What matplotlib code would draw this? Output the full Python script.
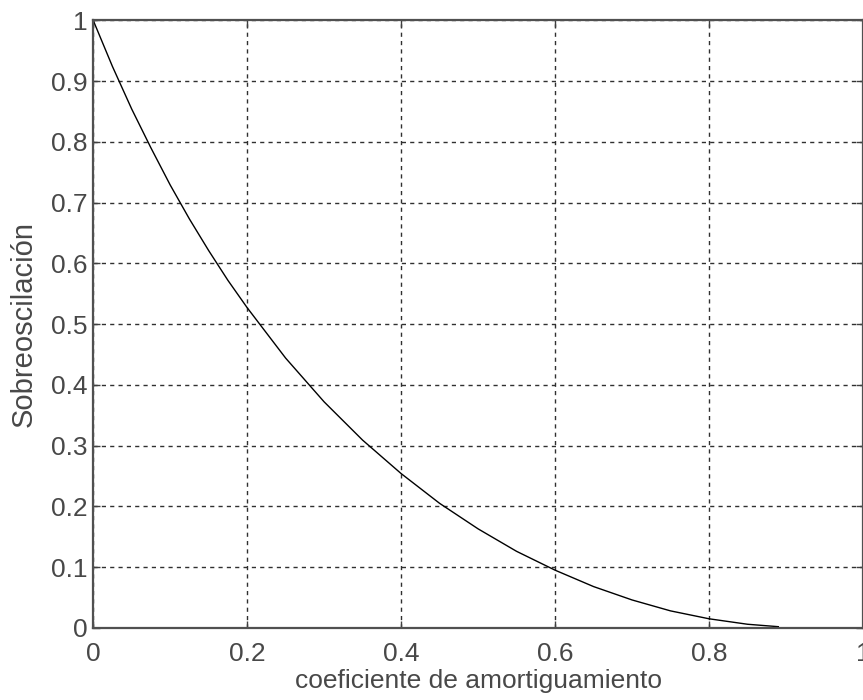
import numpy as np
import matplotlib.pyplot as plt

plt.rcParams['font.family'] = ['Liberation Sans', 'DejaVu Sans']

# damping ratio vs overshoot
zeta = [0.0, 0.025, 0.05, 0.075, 0.1, 0.125, 0.15, 0.175, 0.2, 0.25, 0.3, 0.35,
        0.4, 0.45, 0.5, 0.55, 0.6, 0.65, 0.7, 0.75, 0.8, 0.85, 0.89]
overshoot = [1.0, 0.924, 0.854, 0.790, 0.729, 0.673, 0.621, 0.572, 0.527, 0.444,
             0.372, 0.309, 0.254, 0.205, 0.163, 0.126, 0.095, 0.068, 0.046, 0.028,
             0.015, 0.006, 0.002]

xticks = [0, 0.2, 0.4, 0.6, 0.8, 1]
xtick_labels = ['0', '0.2', '0.4', '0.6', '0.8', '1']
yticks = [0, 0.1, 0.2, 0.3, 0.4, 0.5, 0.6, 0.7, 0.8, 0.9, 1]
ytick_labels = ['0', '0.1', '0.2', '0.3', '0.4', '0.5', '0.6', '0.7', '0.8', '0.9', '1']

fig = plt.figure(figsize=(8.63, 7.0), dpi=100)
ax = fig.add_axes([0.108, 0.103, 0.892, 0.868])

ax.plot(zeta, overshoot, color='black', linewidth=1.0)

ax.set_xlim(0, 1)
ax.set_ylim(0, 1)
ax.set_xticks(xticks)
ax.set_xticklabels(xtick_labels)
ax.set_yticks(yticks)
ax.set_yticklabels(ytick_labels)

ax.grid(True, color='#303030', linestyle=(0, (3, 3)), linewidth=1.0)
ax.tick_params(direction='in', length=5, width=1, color='#404040',
               labelsize=19, labelcolor='#484848', top=True, right=True, pad=4)
ax.tick_params(axis='x', pad=10)
for s in ax.spines.values():
    s.set_color('#505050')
    s.set_linewidth(1.6)

ax.set_xlabel('coeficiente de amortiguamiento', fontsize=19, color='#484848', labelpad=2)
ax.set_ylabel('Sobreoscilación', fontsize=21, color='#484848')
ax.yaxis.set_label_coords(-0.072, 0.5)

fig.savefig('out.png', dpi=100)
